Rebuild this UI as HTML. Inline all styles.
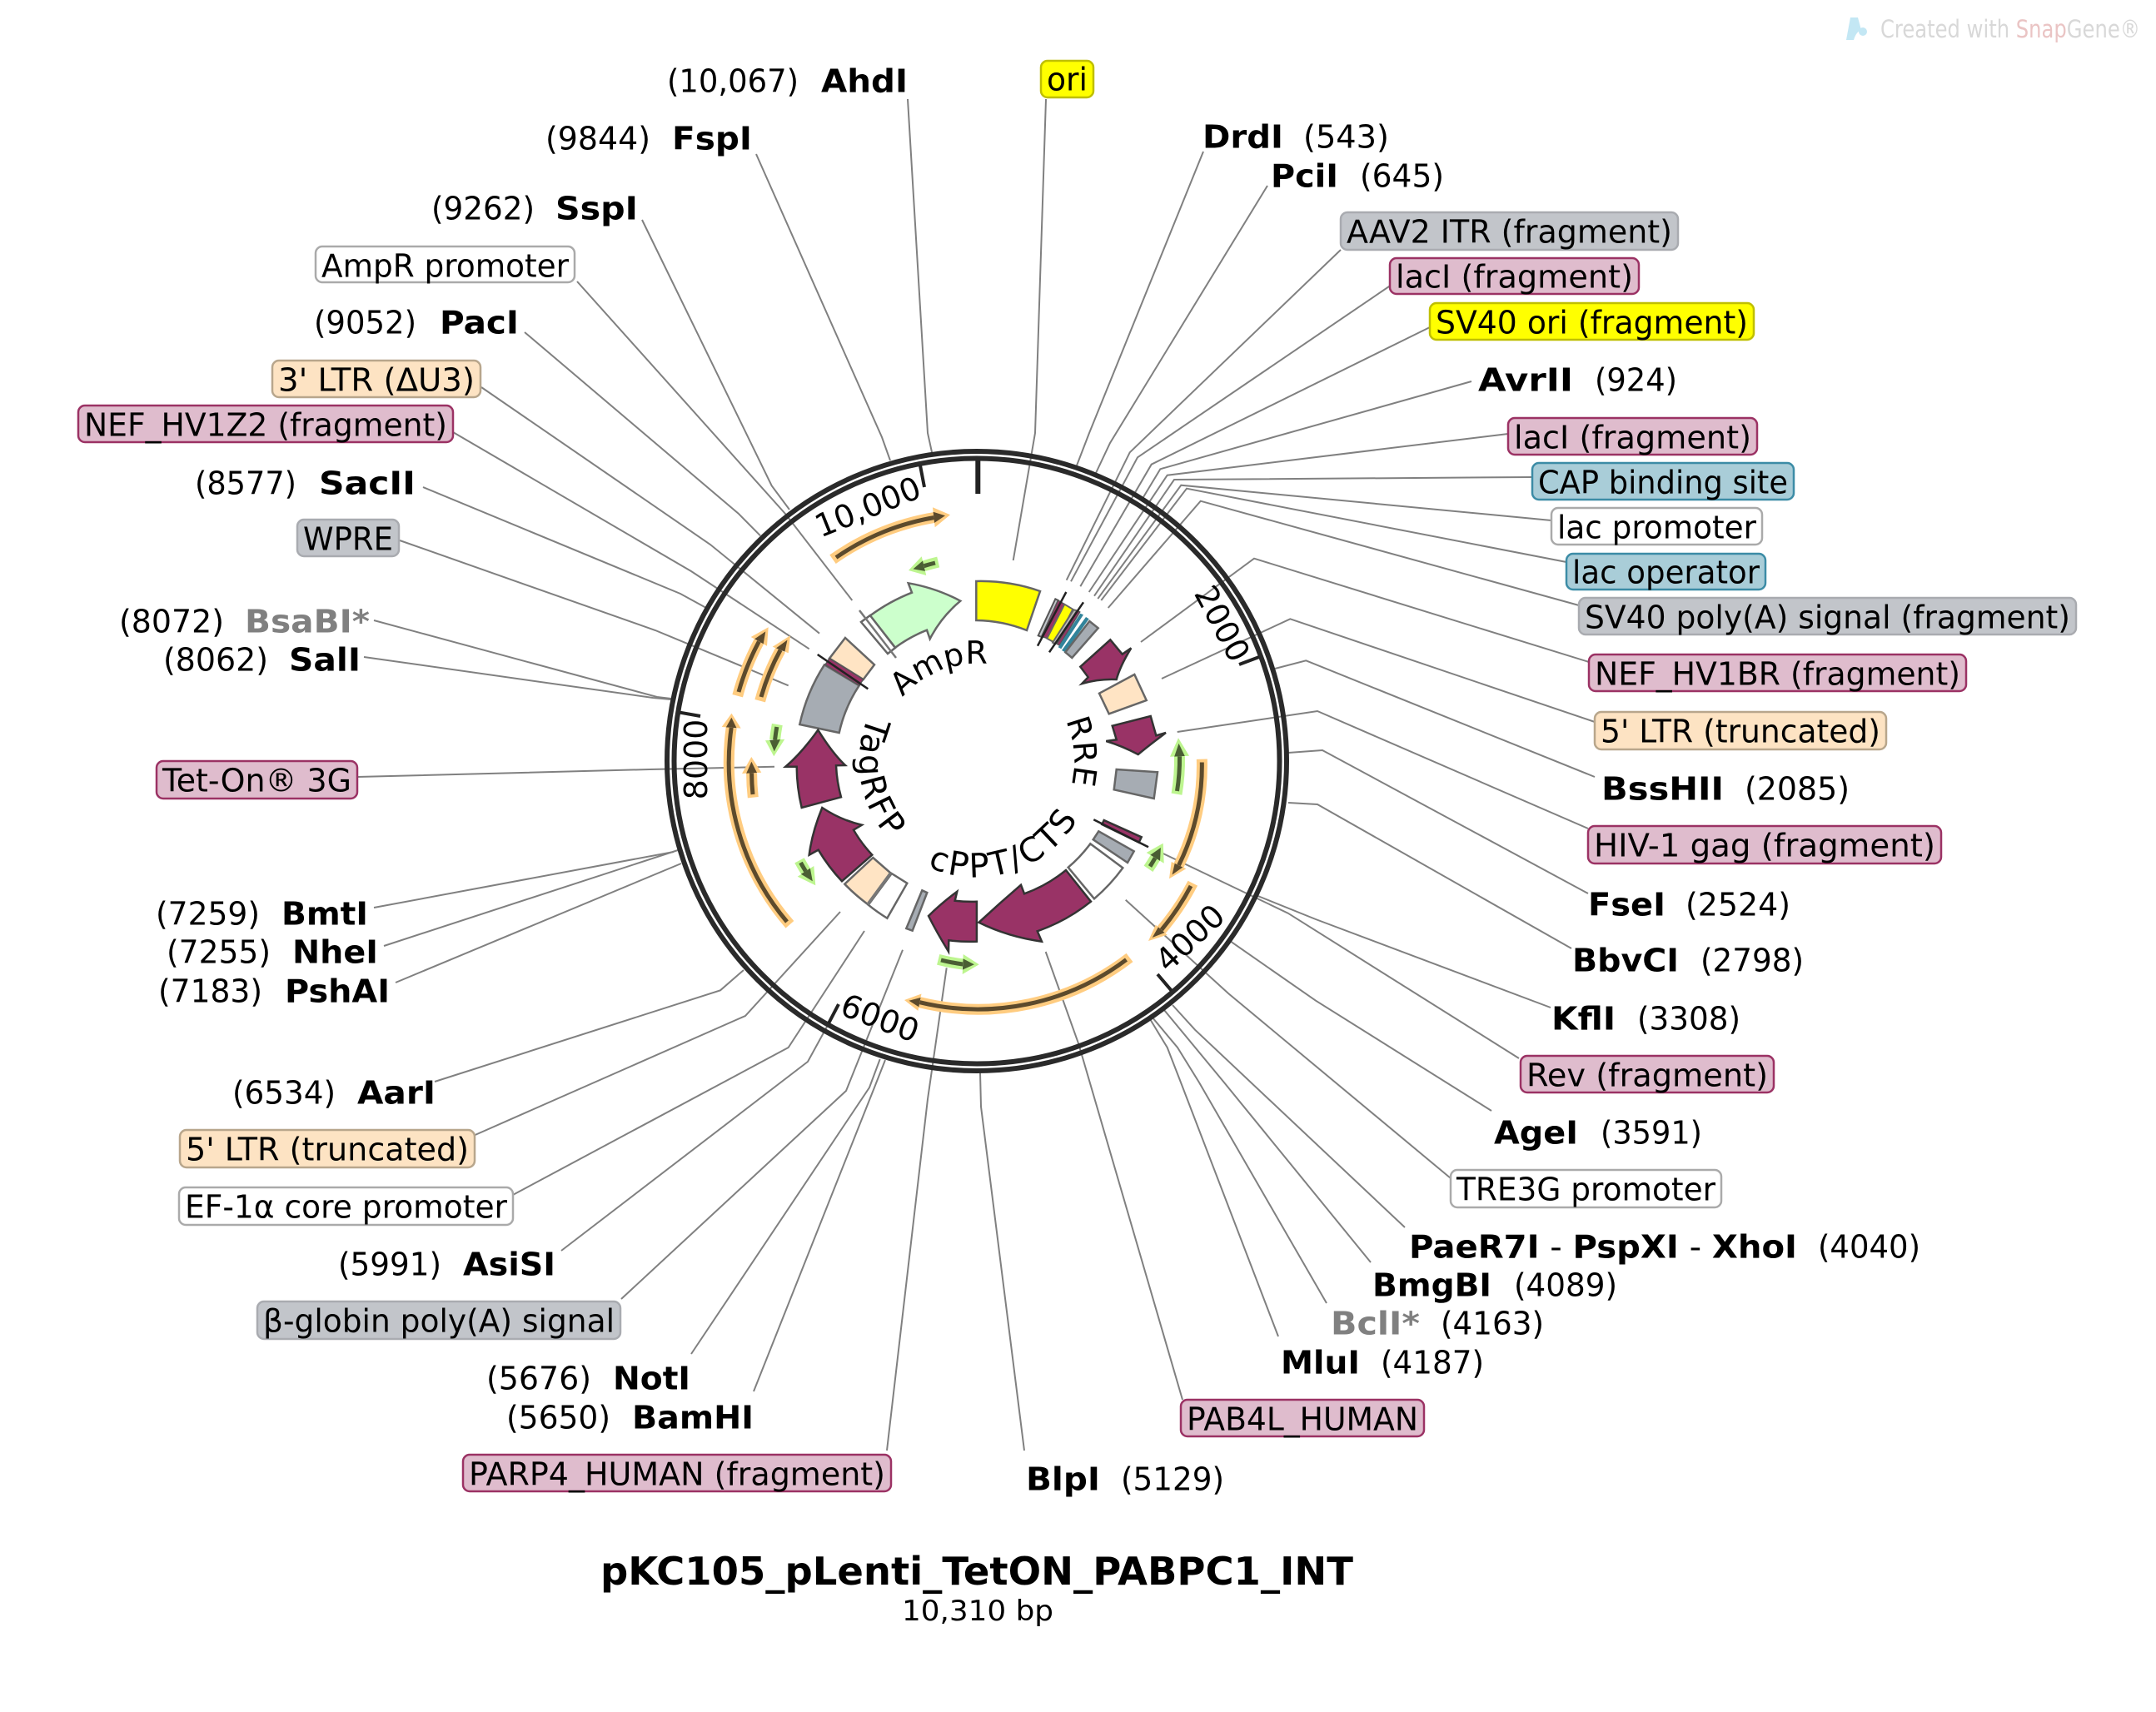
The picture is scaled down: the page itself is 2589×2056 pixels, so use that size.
<!DOCTYPE html>
<html><head><meta charset="utf-8"><title>pKC105_pLenti_TetON_PABPC1_INT</title>
<style>
html,body{margin:0;padding:0;background:#fff}
svg{display:block}
text{font-family:"DejaVu Sans","Liberation Sans",sans-serif;font-size:38px;fill:#000}
.lbl text{transform:translateY(1.5px)}
.b{font-weight:bold;font-size:38px}
.g{fill:#808080}
.l{fill:none;stroke:#808080;stroke-width:2}
.pk{fill:#dfbccd;stroke:#9b3264;stroke-width:2.5}
.gy{fill:#c2c5ca;stroke:#a9abb0;stroke-width:2.5}
.ye{fill:#ff0;stroke:#bfbf00;stroke-width:2.5}
.te{fill:#a9cdd8;stroke:#3c8ca6;stroke-width:2.5}
.pe{fill:#fde3c3;stroke:#b8a68c;stroke-width:2.5}
.wh{fill:#fff;stroke:#aaa;stroke-width:2.5}
.f{stroke:#666;stroke-width:2.5;stroke-linejoin:miter}
.m{fill:#993366;stroke:#333;stroke-width:2.5}
.ol{fill:none;stroke:#ffcc80;stroke-width:13}
.od{fill:none;stroke:#5c4a2c;stroke-width:5}
.oh{fill:#ffcc80}
.oi{fill:#5c4a2c}
.gl{fill:none;stroke:#bdf58f;stroke-width:13}
.gd{fill:none;stroke:#4a5e33;stroke-width:5}
.gh{fill:#bdf58f}
.gi{fill:#4a5e33}
.tk{stroke:#222;stroke-width:4}
</style></head><body>
<svg xmlns="http://www.w3.org/2000/svg" width="2589" height="2056" viewBox="0 0 2589 2056">
<rect width="2589" height="2056" fill="#fff"/>

<!-- connector lines -->
<g class="l">
<polyline points="1119,543 1114,520 1090,119"/>
<polyline points="1216.7,673 1243,520 1256,119"/>
<polyline points="1293,559 1308,520 1445,182"/>
<polyline points="1316,568 1333,532 1522,223"/>
<polyline points="1280.7,696.7 1356.7,543.3 1610,300"/>
<polyline points="1286,698.3 1366,549.3 1671,342"/>
<polyline points="1297.3,704.3 1382.7,557.7 1717,393"/>
<polyline points="1373,597 1393.3,563.3 1767,458"/>
<polyline points="1307.7,711 1401.7,570.7 1811,521"/>
<polyline points="1314,715.7 1410,576 1840,573"/>
<polyline points="1318.3,719 1418.3,582.7 1863,625"/>
<polyline points="1322.3,721 1425,586.7 1881,675"/>
<polyline points="1330.7,730 1441.7,601.7 1896,727"/>
<polyline points="1370,771 1506,670.7 1908,795"/>
<polyline points="1395,815 1549.3,743.3 1915,867"/>
<polyline points="1531,803 1568.3,793.3 1915,933"/>
<polyline points="1413.7,879 1582,854 1907,995"/>
<polyline points="1547,904 1588,901 1907,1073"/>
<polyline points="1547,964 1582,966 1887,1139"/>
<polyline points="1508,1075 1580,1104 1862,1210"/>
<polyline points="1396.7,1025 1546.7,1096.7 1824,1271"/>
<polyline points="1478,1130.7 1580,1201.7 1791,1334"/>
<polyline points="1351.7,1080.7 1475,1193 1742,1415"/>
<polyline points="1408,1207 1435,1236.7 1687,1474"/>
<polyline points="1398,1213 1470,1300 1646,1516"/>
<polyline points="1385,1223.3 1414,1258 1440,1300 1593,1565"/>
<polyline points="1381.7,1225 1401.7,1258 1418,1300 1535,1605"/>
<polyline points="1255.7,1143 1295,1253 1420,1681"/>
<polyline points="1177,1288 1178,1329 1230,1742"/>
<polyline points="1136.7,1162.3 1114,1320 1065,1742"/>
<polyline points="1063,1273 1050,1306 905,1671"/>
<polyline points="1056.7,1272 1044,1306 830,1626"/>
<polyline points="1084,1140.7 1016,1310 746,1560"/>
<polyline points="993,1233 970,1275 674,1502"/>
<polyline points="1038,1118 946.7,1258 614,1436"/>
<polyline points="1009,1095 895,1220 566,1365"/>
<polyline points="893,1165 865,1189.3 522,1299"/>
<polyline points="818,1037 475,1180"/>
<polyline points="814,1021 461,1136"/>
<polyline points="809,1023 449,1090"/>
<polyline points="930,920.7 780,924 429,933"/>
<polyline points="806,840 784,838 437,789"/>
<polyline points="806,839 789,837 449,745"/>
<polyline points="946.7,823.3 787,757 480,649"/>
<polyline points="848,730 817,713 508,585"/>
<polyline points="971.7,779.3 830,686 544,519"/>
<polyline points="984,760.7 853,654 578,465"/>
<polyline points="913,643.3 886.7,616.7 630,399"/>
<polyline points="1023.3,721 943,617 693,338"/>
<polyline points="948,612 926.7,583.3 771,264"/>
<polyline points="1069,553 1059,525 908,185"/>
</g>

<!-- backbone -->
<circle cx="1173" cy="914" r="372" fill="none" stroke="#2a2a2a" stroke-width="6"/>
<circle cx="1173" cy="914" r="363.5" fill="none" stroke="#2a2a2a" stroke-width="6"/>

<!-- ticks -->
<line x1="1174.3" y1="553" x2="1174.3" y2="593" stroke="#222" stroke-width="6"/>
<line class="tk" x1="1105" y1="559" x2="1110" y2="585"/>
<line class="tk" x1="1512" y1="789" x2="1488" y2="798"/>
<line class="tk" x1="1406.5" y1="1189.4" x2="1390" y2="1170"/>
<line class="tk" x1="995" y1="1229" x2="1007" y2="1206"/>
<line class="tk" x1="816.7" y1="855.7" x2="841" y2="860"/>

<text transform="translate(1047,621) rotate(-22)" text-anchor="middle">10,000</text>
<text transform="translate(1456,755) rotate(62)" text-anchor="middle">2000</text>
<text transform="translate(1438,1136) rotate(-43)" text-anchor="middle">4000</text>
<text transform="translate(1052,1235) rotate(21)" text-anchor="middle">6000</text>
<text transform="translate(849,912) rotate(-90)" text-anchor="middle">8000</text>

<!-- primer style arcs: orange -->
<path class="ol" d="M1000 671.7A297 297 0 0 1 1125 621"/><path class="od" d="M1004 669.5A297 297 0 0 1 1125 621"/>
<polygon class="oh" points="1141,618.3 1120,609.3 1122.7,633.3"/><polygon class="oi" points="1135,619.2 1120.6,614.7 1122.1,627.9"/>
<path class="ol" d="M885.7 835.7A297 297 0 0 1 911.4 770.4"/><path class="od" d="M887 831A297 297 0 0 1 911.4 770.4"/>
<polygon class="oh" points="922.7,753.3 901.7,765 921,775.7"/><polygon class="oi" points="919.3,758.4 906.1,767.4 916.7,773.3"/>
<path class="ol" d="M912.7 841.7A270 270 0 0 1 937.2 780.5"/><path class="od" d="M914 837A270 270 0 0 1 937.2 780.5"/>
<polygon class="oh" points="949,763.3 927.7,776.7 946.7,784.3"/><polygon class="oi" points="945.5,768.5 932,778.4 942.4,782.6"/>
<path class="ol" d="M948.4 1110.3A297 297 0 0 1 878.2 873.8"/><path class="od" d="M945 1107A297 297 0 0 1 878.2 873.8"/>
<polygon class="oh" points="878.5,856.7 866.7,873 889.7,874.6"/><polygon class="oi" points="878.4,861.8 871.9,873.4 884.5,874.2"/>
<path class="ol" d="M904.3 957.7A270 270 0 0 1 902.6 928.3"/><path class="od" d="M904 954A270 270 0 0 1 902.6 928.3"/>
<polygon class="oh" points="902.3,909 891,929 914.3,927.7"/><polygon class="oi" points="902.4,914.8 896.2,928.7 909,928"/>
<path class="ol" d="M1356.5 1150A297 297 0 0 1 1104.4 1203.7"/><path class="od" d="M1352.5 1152.5A297 297 0 0 1 1104.4 1203.7"/>
<polygon class="oh" points="1086,1201 1106.5,1193.5 1102.4,1213.9"/><polygon class="oi" points="1091.5,1201.8 1105.6,1198 1103.3,1209.3"/>
<path class="ol" d="M1432.3 1060.7A297 297 0 0 1 1394.7 1116.7"/><path class="od" d="M1430 1064A297 297 0 0 1 1394.7 1116.7"/>
<polygon class="oh" points="1379,1130 1387.7,1110.7 1401.7,1122.7"/><polygon class="oi" points="1383.7,1126 1390.9,1113.4 1398.5,1120"/>
<path class="ol" d="M1443.3 911.7A270 270 0 0 1 1415.5 1039.2"/><path class="od" d="M1443.3 915.5A270 270 0 0 1 1415.5 1039.2"/>
<polygon class="oh" points="1404,1055.3 1406.7,1035 1424.3,1043.3"/><polygon class="oi" points="1407.5,1050.5 1410.7,1036.9 1420.3,1041.5"/>

<!-- primer style arcs: green -->
<path class="gl" d="M1126.7 675A243 243 0 0 0 1109.5 679.7"/><path class="gd" d="M1123 676A243 243 0 0 0 1109.5 679.7"/>
<polygon class="gh" points="1091,685 1106.7,668.3 1112.3,691"/><polygon class="gi" points="1096.5,683.4 1108,673.5 1111,685.9"/>
<path class="gl" d="M933.3 870A243 243 0 0 0 930.6 888.5"/><path class="gd" d="M932.8 873A243 243 0 0 0 930.6 888.5"/>
<polygon class="gh" points="929.3,908.3 919,889.3 942.3,887.7"/><polygon class="gi" points="929.7,902.4 924.2,888.9 937,888.1"/>
<path class="gl" d="M960 1033.3A243 243 0 0 0 967.5 1046.3"/><path class="gd" d="M961.5 1036A243 243 0 0 0 967.5 1046.3"/>
<polygon class="gh" points="979.3,1063.3 957.7,1052.7 977.3,1040"/><polygon class="gi" points="975.8,1058.2 961.9,1049.8 972.9,1042.8"/>
<path class="gl" d="M1126.7 1152.3A243 243 0 0 0 1156.2 1158"/><path class="gd" d="M1130 1153A243 243 0 0 0 1156.2 1158"/>
<polygon class="gh" points="1175.7,1158.3 1156.7,1146 1155.7,1170"/><polygon class="gi" points="1169.9,1158.2 1156.6,1151.4 1155.9,1164.6"/>
<path class="gl" d="M1379 1043.3A243 243 0 0 0 1387.2 1030.3"/><path class="gd" d="M1381 1040.5A243 243 0 0 0 1387.2 1030.3"/>
<polygon class="gh" points="1396.7,1012.7 1376.7,1024 1397.7,1036.7"/><polygon class="gi" points="1393.9,1018 1381.4,1026.8 1393,1033.8"/>
<path class="gl" d="M1413 953.7A243 243 0 0 0 1416.5 908.3"/><path class="gd" d="M1413.5 950A243 243 0 0 0 1416.5 908.3"/>
<polygon class="gh" points="1415,886.3 1405,908.8 1428,907.8"/><polygon class="gi" points="1415.5,892.9 1410.2,908.6 1422.8,908"/>

<!-- features -->
<path class="f" fill="#ff0" d="M1172.3 698A216 216 0 0 1 1249 710L1233 757A168 168 0 0 0 1172.3 745Z"/>
<polygon class="f" fill="#fff" points="1034,747 1066,785 1075,778 1045,739"/>
<line x1="1032" y1="733" x2="1076" y2="790" stroke="#777" stroke-width="2.5"/>
<path class="f" fill="#ccffcc" d="M1045 739.3A216.5 216.5 0 0 1 1095 711.7L1090.7 700.3Q1124 706 1153.3 721.7Q1130 741 1116.7 767.3L1113 756.7A169 169 0 0 0 1075 777.7Z"/>
<path class="f" fill="#ffe4c4" d="M1015 766L1050 798.3L1036.7 816L996 790.7Z"/>
<path class="f" fill="#a6acb3" d="M990 798.3L1031.7 823.3A168 168 0 0 0 1007.7 880L960.3 870A217 217 0 0 1 990 798.3Z"/>
<polygon fill="#993366" stroke="#555" stroke-width="1.5" points="996,790.7 991,798.3 1031.7,823 1036.7,816"/>
<line x1="981.7" y1="786" x2="1042.3" y2="827.3" stroke="#222" stroke-width="2.5"/>
<path class="m" d="M962.7 970A217 217 0 0 1 956.7 920.7L943.3 920.7Q962 905 982.3 876.7Q1000 905 1015 919L1004 919.3A169 169 0 0 0 1010 957.3Z"/>
<path class="m" d="M1011 1058.3A217 217 0 0 1 982.7 1020.7L971.7 1026.7Q975 1000 987.3 970Q1010 985 1035 990.7L1025 996.7A169 169 0 0 0 1047.3 1026.7Z"/>
<path class="f" fill="#ffe4c4" stroke-width="2" d="M1048.3 1030L1069.3 1048.3L1041.7 1085.7A217 217 0 0 1 1014.3 1061.7Z"/>
<path class="f" fill="#fff" d="M1070.7 1049L1089.3 1060.7L1065.3 1102.7A217 217 0 0 1 1042.7 1086.7Z"/>
<line x1="1069.5" y1="1048.5" x2="1042" y2="1086" stroke="#777" stroke-width="3.5"/>
<polygon class="f" fill="#a6acb3" points="1107.3,1069.3 1113.3,1072 1095.7,1117.7 1088.3,1115"/>
<path class="m" d="M1172.9 1082.8A169 169 0 0 1 1146.7 1081.7L1149.3 1070.7Q1130 1085 1115 1100Q1125 1120 1139 1142.7L1139.3 1129.3A217 217 0 0 0 1172.9 1130.7Z"/>
<path class="m" d="M1280 1045A169 169 0 0 1 1230 1073.3L1226 1062.7Q1200 1085 1175.4 1107.8Q1210 1125 1251 1130.7L1245.7 1118.3A217 217 0 0 0 1310 1082.7Z"/>
<path class="f" fill="#fff" d="M1309.3 1013.3L1348.3 1042.3A217 217 0 0 1 1314 1079.3L1282.7 1041.7A169 169 0 0 0 1309.3 1013.3Z"/>
<polygon class="f" fill="#a6acb3" points="1319.3,998.3 1361.7,1022.3 1354,1036 1312.7,1008.3"/>
<polygon class="m" points="1325.7,985 1370.7,1005.3 1367.7,1011.7 1323.3,990"/>
<line x1="1313.3" y1="984.3" x2="1379" y2="1017.3" stroke="#222" stroke-width="2.5"/>
<polygon class="f" fill="#a6acb3" points="1340.7,924 1390,927.3 1385.7,959 1337.7,948.3"/>
<path class="m" d="M1335.7 871.7L1381.7 860L1388.3 883.3L1400 880Q1380 895 1366.7 906Q1348 896 1328.3 890L1340.7 888.3Z"/>
<polygon class="f" fill="#ffe4c4" points="1320,832.7 1362.3,810 1376.7,841 1331.7,857.3"/>
<path class="m" d="M1297.3 800.7L1333.3 768.3L1347.7 785.7L1358.3 778.3Q1345 800 1340.7 816Q1320 815 1299.3 821L1306.7 813.3Z"/>

<!-- cluster of small features -->
<polygon fill="#c2c5ca" stroke="#555" stroke-width="2" points="1267.3,719.3 1270.7,721 1250.7,765 1246.7,763.3"/>
<polygon fill="#993366" stroke="#555" stroke-width="1.5" points="1270.7,721 1278.3,725.7 1258,766.7 1250.7,764.3"/>
<polygon fill="#ff0" stroke="#666" stroke-width="2" points="1278.3,725.7 1288.3,731.7 1267.3,772.3 1257.3,766.7"/>
<line x1="1280.3" y1="711" x2="1246" y2="775.7" stroke="#222" stroke-width="2.5"/>
<polygon fill="#bbb" stroke="#666" stroke-width="2" points="1289.3,732.3 1293.3,733.3 1267.3,773.3 1264,771.7"/>
<polygon fill="#993366" stroke="#555" stroke-width="1.5" points="1294,733.3 1296.7,735 1272.3,775 1269.3,773.3"/>
<line x1="1301" y1="723.3" x2="1260" y2="783.3" stroke="#222" stroke-width="2.5"/>
<polygon fill="#31849b" points="1297.3,736.7 1301,738.3 1274.3,779.3 1270.7,777.3"/>
<polygon fill="#31849b" points="1304,741 1307.7,743.3 1279,783.3 1275,781"/>
<polygon class="f" fill="#a6acb3" points="1308.3,746 1318.7,754.3 1287.3,790 1279.3,783.3"/>

<!-- feature names on arcs -->
<defs>
<path id="pa" d="M1061.4 958A120 120 0 0 1 1284.6 870"/>
<path id="pr" d="M1162.5 794.5A120 120 0 0 1 1183.5 1033.5"/>
<path id="pc" d="M1038 957.9A142 142 0 0 0 1308 870"/>
<path id="pt" d="M1148.5 775A141 141 0 0 0 1197.5 1053"/>
</defs>
<text style="font-size:38px" text-anchor="middle"><textPath href="#pa" startOffset="50%">AmpR</textPath></text>
<text style="font-size:38px;letter-spacing:1px" text-anchor="middle"><textPath href="#pr" startOffset="50%">RRE</textPath></text>
<text style="font-size:40px;letter-spacing:3px" text-anchor="middle"><textPath href="#pc" startOffset="50%">cPPT/CTS</textPath></text>
<text style="font-size:40px;letter-spacing:3px" text-anchor="middle"><textPath href="#pt" startOffset="50%">TagRFP</textPath></text>

<!-- feature label boxes -->
<g class="lbl">
<rect class="ye" x="1250" y="73" width="63" height="44" rx="8"/><text x="1257" y="107" textLength="49" lengthAdjust="spacingAndGlyphs">ori</text>
<rect class="wh" x="379" y="296" width="311" height="43" rx="8"/><text x="386" y="331" textLength="297" lengthAdjust="spacingAndGlyphs">AmpR promoter</text>
<rect class="pe" x="327" y="433" width="250" height="44" rx="8"/><text x="334" y="468" textLength="236" lengthAdjust="spacingAndGlyphs">3' LTR (ΔU3)</text>
<rect class="pk" x="94" y="487" width="450" height="44" rx="8"/><text x="101" y="522" textLength="436" lengthAdjust="spacingAndGlyphs">NEF_HV1Z2 (fragment)</text>
<rect class="gy" x="357" y="624" width="122" height="44" rx="8"/><text x="364" y="659" textLength="108" lengthAdjust="spacingAndGlyphs">WPRE</text>
<rect class="pk" x="188" y="914" width="241" height="45" rx="8"/><text x="195" y="949" textLength="227" lengthAdjust="spacingAndGlyphs">Tet-On® 3G</text>
<rect class="pe" x="216" y="1357" width="354" height="45" rx="8"/><text x="223" y="1392" textLength="340" lengthAdjust="spacingAndGlyphs">5' LTR (truncated)</text>
<rect class="wh" x="215" y="1426" width="401" height="45" rx="8"/><text x="222" y="1461" textLength="387" lengthAdjust="spacingAndGlyphs">EF-1α core promoter</text>
<rect class="gy" x="309" y="1563" width="436" height="45" rx="8"/><text x="316" y="1598" textLength="422" lengthAdjust="spacingAndGlyphs">β-globin poly(A) signal</text>
<rect class="pk" x="556" y="1747" width="514" height="44" rx="8"/><text x="563" y="1782" textLength="500" lengthAdjust="spacingAndGlyphs">PARP4_HUMAN (fragment)</text>
<rect class="pk" x="1418" y="1681" width="292" height="44" rx="8"/><text x="1425" y="1716" textLength="278" lengthAdjust="spacingAndGlyphs">PAB4L_HUMAN</text>
<rect class="wh" x="1742" y="1405" width="325" height="45" rx="8"/><text x="1749" y="1440" textLength="311" lengthAdjust="spacingAndGlyphs">TRE3G promoter</text>
<rect class="pk" x="1826" y="1268" width="304" height="44" rx="8"/><text x="1833" y="1303" textLength="290" lengthAdjust="spacingAndGlyphs">Rev (fragment)</text>
<rect class="pk" x="1907" y="992" width="424" height="45" rx="8"/><text x="1914" y="1027" textLength="410" lengthAdjust="spacingAndGlyphs">HIV-1 gag (fragment)</text>
<rect class="pe" x="1915" y="855" width="350" height="45" rx="8"/><text x="1922" y="890" textLength="336" lengthAdjust="spacingAndGlyphs">5' LTR (truncated)</text>
<rect class="pk" x="1908" y="786" width="453" height="44" rx="8"/><text x="1915" y="821" textLength="439" lengthAdjust="spacingAndGlyphs">NEF_HV1BR (fragment)</text>
<rect class="gy" x="1896" y="718" width="597" height="44" rx="8"/><text x="1903" y="753" textLength="583" lengthAdjust="spacingAndGlyphs">SV40 poly(A) signal (fragment)</text>
<rect class="te" x="1881" y="665" width="239" height="43" rx="8"/><text x="1888" y="699" textLength="225" lengthAdjust="spacingAndGlyphs">lac operator</text>
<rect class="wh" x="1863" y="610" width="253" height="44" rx="8"/><text x="1870" y="645" textLength="239" lengthAdjust="spacingAndGlyphs">lac promoter</text>
<rect class="te" x="1840" y="556" width="314" height="44" rx="8"/><text x="1847" y="591" textLength="300" lengthAdjust="spacingAndGlyphs">CAP binding site</text>
<rect class="pk" x="1811" y="502" width="299" height="44" rx="8"/><text x="1818" y="537" textLength="285" lengthAdjust="spacingAndGlyphs">lacI (fragment)</text>
<rect class="ye" x="1717" y="364" width="389" height="44" rx="8"/><text x="1724" y="399" textLength="375" lengthAdjust="spacingAndGlyphs">SV40 ori (fragment)</text>
<rect class="pk" x="1669" y="310" width="299" height="43" rx="8"/><text x="1676" y="344" textLength="285" lengthAdjust="spacingAndGlyphs">lacI (fragment)</text>
<rect class="gy" x="1610" y="255" width="405" height="45" rx="8"/><text x="1617" y="290" textLength="391" lengthAdjust="spacingAndGlyphs">AAV2 ITR (fragment)</text>
</g>

<!-- enzyme labels -->
<g class="lbl">
<text x="801" y="109" textLength="158" lengthAdjust="spacingAndGlyphs">(10,067)</text><text class="b" x="986" y="109" textLength="104" lengthAdjust="spacingAndGlyphs">AhdI</text>
<text x="655" y="178" textLength="126" lengthAdjust="spacingAndGlyphs">(9844)</text><text class="b" x="807" y="178" textLength="96" lengthAdjust="spacingAndGlyphs">FspI</text>
<text x="518" y="262" textLength="124" lengthAdjust="spacingAndGlyphs">(9262)</text><text class="b" x="667" y="262" textLength="99" lengthAdjust="spacingAndGlyphs">SspI</text>
<text x="377" y="399" textLength="123" lengthAdjust="spacingAndGlyphs">(9052)</text><text class="b" x="528" y="399" textLength="95" lengthAdjust="spacingAndGlyphs">PacI</text>
<text x="234" y="592" textLength="122" lengthAdjust="spacingAndGlyphs">(8577)</text><text class="b" x="383" y="592" textLength="116" lengthAdjust="spacingAndGlyphs">SacII</text>
<text x="143" y="758" textLength="126" lengthAdjust="spacingAndGlyphs">(8072)</text><text class="b g" x="294" y="758" textLength="150" lengthAdjust="spacingAndGlyphs">BsaBI*</text>
<text x="196" y="804" textLength="126" lengthAdjust="spacingAndGlyphs">(8062)</text><text class="b" x="347" y="804" textLength="86" lengthAdjust="spacingAndGlyphs">SalI</text>
<text x="187" y="1109" textLength="125" lengthAdjust="spacingAndGlyphs">(7259)</text><text class="b" x="338" y="1109" textLength="104" lengthAdjust="spacingAndGlyphs">BmtI</text>
<text x="200" y="1155" textLength="125" lengthAdjust="spacingAndGlyphs">(7255)</text><text class="b" x="351" y="1155" textLength="103" lengthAdjust="spacingAndGlyphs">NheI</text>
<text x="190" y="1202" textLength="125" lengthAdjust="spacingAndGlyphs">(7183)</text><text class="b" x="342" y="1202" textLength="126" lengthAdjust="spacingAndGlyphs">PshAI</text>
<text x="279" y="1324" textLength="124" lengthAdjust="spacingAndGlyphs">(6534)</text><text class="b" x="429" y="1324" textLength="94" lengthAdjust="spacingAndGlyphs">AarI</text>
<text x="406" y="1530" textLength="124" lengthAdjust="spacingAndGlyphs">(5991)</text><text class="b" x="556" y="1530" textLength="111" lengthAdjust="spacingAndGlyphs">AsiSI</text>
<text x="584" y="1667" textLength="126" lengthAdjust="spacingAndGlyphs">(5676)</text><text class="b" x="736" y="1667" textLength="93" lengthAdjust="spacingAndGlyphs">NotI</text>
<text x="608" y="1714" textLength="125" lengthAdjust="spacingAndGlyphs">(5650)</text><text class="b" x="759" y="1714" textLength="146" lengthAdjust="spacingAndGlyphs">BamHI</text>

<text class="b" x="1444" y="176" textLength="97" lengthAdjust="spacingAndGlyphs">DrdI</text><text x="1565" y="176" textLength="103" lengthAdjust="spacingAndGlyphs">(543)</text>
<text class="b" x="1526" y="223" textLength="81" lengthAdjust="spacingAndGlyphs">PciI</text><text x="1633" y="223" textLength="101" lengthAdjust="spacingAndGlyphs">(645)</text>
<text class="b" x="1775" y="468" textLength="114" lengthAdjust="spacingAndGlyphs">AvrII</text><text x="1915" y="468" textLength="99" lengthAdjust="spacingAndGlyphs">(924)</text>
<text class="b" x="1923" y="959" textLength="147" lengthAdjust="spacingAndGlyphs">BssHII</text><text x="2095" y="959" textLength="126" lengthAdjust="spacingAndGlyphs">(2085)</text>
<text class="b" x="1907" y="1098" textLength="93" lengthAdjust="spacingAndGlyphs">FseI</text><text x="2024" y="1098" textLength="126" lengthAdjust="spacingAndGlyphs">(2524)</text>
<text class="b" x="1888" y="1165" textLength="128" lengthAdjust="spacingAndGlyphs">BbvCI</text><text x="2042" y="1165" textLength="124" lengthAdjust="spacingAndGlyphs">(2798)</text>
<text class="b" x="1863" y="1235" textLength="77" lengthAdjust="spacingAndGlyphs">KflI</text><text x="1966" y="1235" textLength="124" lengthAdjust="spacingAndGlyphs">(3308)</text>
<text class="b" x="1794" y="1372" textLength="101" lengthAdjust="spacingAndGlyphs">AgeI</text><text x="1922" y="1372" textLength="122" lengthAdjust="spacingAndGlyphs">(3591)</text>
<text class="b" x="1692" y="1509" textLength="466" lengthAdjust="spacingAndGlyphs">PaeR7I<tspan font-weight="normal"> - </tspan>PspXI<tspan font-weight="normal"> - </tspan>XhoI</text><text x="2183" y="1509" textLength="123" lengthAdjust="spacingAndGlyphs">(4040)</text>
<text class="b" x="1648" y="1555" textLength="143" lengthAdjust="spacingAndGlyphs">BmgBI</text><text x="1818" y="1555" textLength="124" lengthAdjust="spacingAndGlyphs">(4089)</text>
<text class="b g" x="1598" y="1601" textLength="107" lengthAdjust="spacingAndGlyphs">BclI*</text><text x="1730" y="1601" textLength="124" lengthAdjust="spacingAndGlyphs">(4163)</text>
<text class="b" x="1538" y="1648" textLength="95" lengthAdjust="spacingAndGlyphs">MluI</text><text x="1658" y="1648" textLength="124" lengthAdjust="spacingAndGlyphs">(4187)</text>
<text class="b" x="1232" y="1788" textLength="89" lengthAdjust="spacingAndGlyphs">BlpI</text><text x="1346" y="1788" textLength="124" lengthAdjust="spacingAndGlyphs">(5129)</text>
</g>

<!-- title -->
<text x="721" y="1903" textLength="904" lengthAdjust="spacingAndGlyphs" style="font-weight:bold;font-size:46px">pKC105_pLenti_TetON_PABPC1_INT</text>
<text x="1083" y="1946" textLength="182" lengthAdjust="spacingAndGlyphs" style="font-size:34px">10,310 bp</text>

<!-- watermark -->
<path d="M2222 21L2231 21L2235 36Q2229 38 2226 48L2217 48Z" fill="#c3e7f4"/>
<circle cx="2237" cy="38" r="5" fill="#c3e7f4"/>
<text x="2258" y="45" textLength="312" lengthAdjust="spacingAndGlyphs" style="font-size:29px;fill:#d8d8d8">Created with <tspan style="fill:#eac4c4">Snap</tspan>Gene®</text>
</svg>
</body></html>
